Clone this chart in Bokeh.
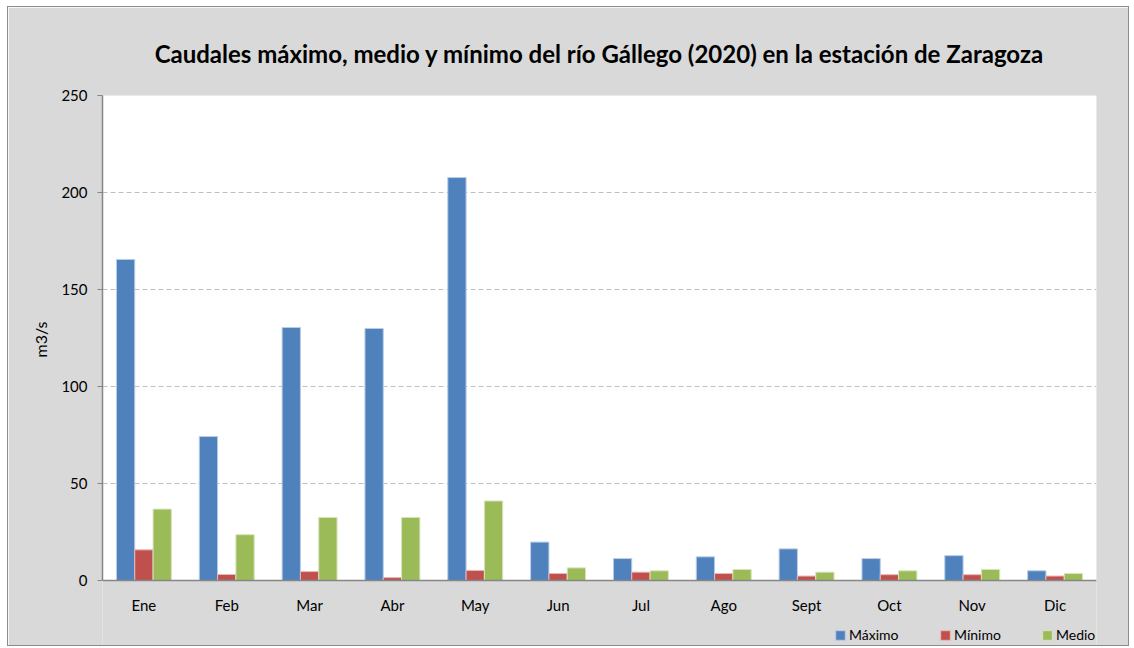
from bokeh.plotting import figure
from bokeh.models import (ColumnDataSource, Legend, LegendItem, FactorRange, Range1d,
                          BoxAnnotation, Title)
from bokeh.transform import dodge
from bokeh.embed import file_html
from bokeh.resources import INLINE

months = ["Ene", "Feb", "Mar", "Abr", "May", "Jun", "Jul", "Ago", "Sept", "Oct", "Nov", "Dic"]
maximo = [165.5, 74.2, 130.4, 129.9, 207.7, 19.8, 11.3, 12.2, 16.3, 11.3, 12.8, 5.0]
minimo = [15.8, 3.1, 4.6, 1.5, 5.2, 3.6, 4.3, 3.6, 2.3, 3.0, 3.0, 2.3]
medio = [36.8, 23.6, 32.5, 32.5, 41.0, 6.5, 5.0, 5.7, 4.3, 5.0, 5.7, 3.6]

title_text = "Caudales máximo, medio y mínimo del río Gállego (2020) en la estación de Zaragoza"
y_label = "m3/s"
y_ticks = [0, 50, 100, 150, 200, 250]
series_labels = ["Máximo", "Mínimo", "Medio"]

FONT = "Lato"
BG = "#d9d9d9"

# layout (pixels)
W, H = 1122, 640
TOP, LEFT, RIGHT = 88, 94, 34
PLOT_H = 485          # pixel height of the 0..250 area
BELOW = (H - TOP) - PLOT_H   # frame extends below zero to host axis labels & legend
y_max = 250
y_min = -BELOW * y_max / PLOT_H

src = ColumnDataSource(dict(month=months, maximo=maximo, minimo=minimo, medio=medio))

p = figure(x_range=FactorRange(*months), y_range=Range1d(y_min, y_max),
           width=W, height=H, output_backend="svg", toolbar_location=None,
           min_border_left=LEFT, min_border_right=RIGHT, min_border_top=TOP, min_border_bottom=0,
           background_fill_color=BG, border_fill_color=BG)
p.styles = {"border": "1px solid #8c8c8c", "margin-left": "7px", "margin-top": "6px"}
p.outline_line_color = None

# white plotting area 0..250
p.add_layout(BoxAnnotation(bottom=0, top=y_max, fill_color="white", fill_alpha=1,
                           line_color=None, level="image"))

p.title.text = title_text
p.title.text_font = FONT
p.title.text_font_size = "24px"
p.title.text_font_style = "bold"
p.title.align = "center"
p.title.text_color = "#000000"
p.title.offset = 0
p.title.standoff = 56

w = 0.221
r1 = p.vbar(x=dodge("month", -w, range=p.x_range), top="maximo", width=w, source=src,
            fill_color="#4f81bd", line_color="#b9cde5", line_width=1)
r2 = p.vbar(x=dodge("month", 0, range=p.x_range), top="minimo", width=w, source=src,
            fill_color="#c0504d", line_color="#e6b9b8", line_width=1)
r3 = p.vbar(x=dodge("month", w, range=p.x_range), top="medio", width=w, source=src,
            fill_color="#9bbb59", line_color="#d7e4bd", line_width=1)

p.xgrid.grid_line_color = None
p.ygrid.grid_line_color = "#bfbfbf"
p.ygrid.grid_line_dash = "5 3"
p.ygrid.grid_line_width = 1

yax = p.yaxis[0]
yax.ticker = y_ticks
yax.bounds = (0, y_max)
yax.axis_line_color = "#868686"
yax.major_tick_line_color = "#868686"
yax.major_tick_out = 5
yax.major_tick_in = 0
yax.minor_tick_line_color = None
yax.major_label_standoff = 10

# y-axis label, centred on the 0..250 span
ylab = Title(text=y_label, align="left", offset=290, standoff=18, vertical_align="bottom",
             text_font=FONT, text_font_size="16px", text_font_style="normal",
             text_color="#000000")
p.add_layout(ylab, "left")

xax = p.xaxis[0]
xax.fixed_location = 0
xax.axis_line_color = "#868686"
xax.major_tick_line_color = None
xax.major_label_standoff = 9

for ax in (xax, yax):
    ax.major_label_text_font = FONT
    ax.major_label_text_font_size = "15px"
    ax.major_label_text_color = "#000000"
    ax.axis_line_width = 1.5

for r, lab, x in zip((r1, r2, r3), series_labels, (732, 837, 939)):
    lg = Legend(items=[LegendItem(label=lab, renderers=[r])], location=(x, 4),
                orientation="horizontal", padding=0, margin=0, spacing=0,
                glyph_width=12, glyph_height=12, label_height=12, label_standoff=3,
                background_fill_alpha=0, border_line_color=None,
                label_text_font=FONT, label_text_font_size="14px", label_text_color="#000000")
    p.add_layout(lg, "center")

open("out.html", "w").write(file_html(p, INLINE))
